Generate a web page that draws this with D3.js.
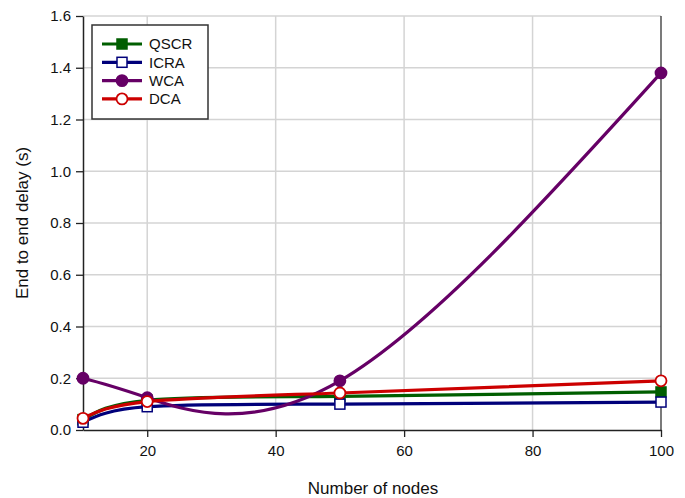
<!DOCTYPE html>
<html>
<head>
<meta charset="utf-8">
<script src="https://cdn.jsdelivr.net/npm/d3@7/dist/d3.min.js"></script>
<style>
  body { margin: 0; background: #fff; }
  svg { display: block; font-family: "Liberation Sans", Arial, sans-serif; }
</style>
</head>
<body>
<svg id="chart" width="685" height="498"></svg>
<script>
// data
const nodes = [10, 20, 50, 100];
const qscr = [0.040, 0.115, 0.130, 0.147];
const icra = [0.030, 0.090, 0.100, 0.108];
const wca  = [0.200, 0.125, 0.190, 1.380];
const dca  = [0.045, 0.110, 0.143, 0.190];
const xTicks = [20, 40, 60, 80, 100];
const yTicks = [0, 0.2, 0.4, 0.6, 0.8, 1.0, 1.2, 1.4, 1.6];

const series = [
  { name: 'QSCR', values: qscr, color: '#005e00', shape: 'square', filled: true },
  { name: 'ICRA', values: icra, color: '#00007a', shape: 'square', filled: false },
  { name: 'WCA',  values: wca,  color: '#660066', shape: 'circle', filled: true },
  { name: 'DCA',  values: dca,  color: '#cc0000', shape: 'circle', filled: false },
];

const margin = { left: 83, right: 24, top: 16, bottom: 68 };
const width = 685, height = 498;

const svg = d3.select('#chart');

const x = d3.scaleLinear().domain([10, 100]).range([margin.left, width - margin.right]);
const y = d3.scaleLinear().domain([0, 1.6]).range([height - margin.bottom, margin.top]);

// grid
svg.append('g')
  .selectAll('line.vg')
  .data(xTicks.filter(d => d < 100))
  .join('line')
  .attr('x1', d => x(d)).attr('x2', d => x(d))
  .attr('y1', y(0)).attr('y2', y(1.6))
  .attr('stroke', '#d4d4d4').attr('stroke-width', 1.5);

svg.append('g')
  .selectAll('line.hg')
  .data(yTicks.filter(d => d > 0))
  .join('line')
  .attr('x1', x(10)).attr('x2', x(100))
  .attr('y1', d => y(d)).attr('y2', d => y(d))
  .attr('stroke', '#d4d4d4').attr('stroke-width', 1.5);

// right frame line
svg.append('line')
  .attr('x1', x(100)).attr('x2', x(100))
  .attr('y1', y(0)).attr('y2', y(1.6))
  .attr('stroke', '#222').attr('stroke-width', 1.2);

// axes
const xAxis = svg.append('g')
  .attr('transform', `translate(0,${y(0)})`)
  .call(d3.axisBottom(x).tickValues(xTicks).tickSize(7).tickSizeOuter(0).tickPadding(8));
const yAxis = svg.append('g')
  .attr('transform', `translate(${x(10)},0)`)
  .call(d3.axisLeft(y).tickValues(yTicks).tickFormat(d3.format('.1f')).tickSize(7).tickSizeOuter(0).tickPadding(5));

[xAxis, yAxis].forEach(a => {
  a.select('.domain').attr('stroke', '#222').attr('stroke-width', 1.5);
  a.selectAll('.tick line').attr('stroke', '#222').attr('stroke-width', 1.3);
  a.selectAll('.tick text')
    .attr('font-size', '15px')
    .attr('fill', '#111')
    .attr('font-family', '"Liberation Sans", Arial, sans-serif');
});

// axis titles
svg.append('text')
  .attr('x', (x(10) + x(100)) / 2 + 1)
  .attr('y', 494)
  .attr('text-anchor', 'middle')
  .attr('font-size', '17px')
  .attr('fill', '#111')
  .text('Number of nodes');

svg.append('text')
  .attr('transform', `translate(28,${(y(0) + y(1.6)) / 2}) rotate(-90)`)
  .attr('text-anchor', 'middle')
  .attr('font-size', '17px')
  .attr('fill', '#111')
  .text('End to end delay (s)');

// lines
const line = d3.line()
  .x(d => x(d[0]))
  .y(d => y(d[1]))
  .curve(d3.curveNatural);

function drawMarker(g, s, cx, cy) {
  if (s.shape === 'square') {
    g.append('rect')
      .attr('x', cx - 5).attr('y', cy - 5)
      .attr('width', 10).attr('height', 10)
      .attr('fill', s.filled ? s.color : '#fff')
      .attr('stroke', s.color).attr('stroke-width', 1.5);
  } else {
    g.append('circle')
      .attr('cx', cx).attr('cy', cy).attr('r', 5.5)
      .attr('fill', s.filled ? s.color : '#fff')
      .attr('stroke', s.color).attr('stroke-width', 1.8);
  }
}

series.forEach(s => {
  const pts = nodes.map((n, i) => [n, s.values[i]]);
  const g = svg.append('g');
  g.append('path')
    .attr('d', line(pts))
    .attr('fill', 'none')
    .attr('stroke', s.color)
    .attr('stroke-width', 3.2);
  pts.forEach(p => drawMarker(g, s, x(p[0]), y(p[1])));
});

// legend
const legend = svg.append('g').attr('transform', 'translate(92,25)');
legend.append('rect')
  .attr('width', 116).attr('height', 94)
  .attr('fill', '#fff')
  .attr('stroke', '#333').attr('stroke-width', 1.5);

series.forEach((s, i) => {
  const ly = 19 + i * 18.3;
  legend.append('line')
    .attr('x1', 10).attr('x2', 50)
    .attr('y1', ly).attr('y2', ly)
    .attr('stroke', s.color).attr('stroke-width', 3.2);
  drawMarker(legend, s, 30, ly);
  legend.append('text')
    .attr('x', 57).attr('y', ly)
    .attr('dy', '0.36em')
    .attr('font-size', '15px')
    .attr('fill', '#111')
    .text(s.name);
});
</script>
</body>
</html>
